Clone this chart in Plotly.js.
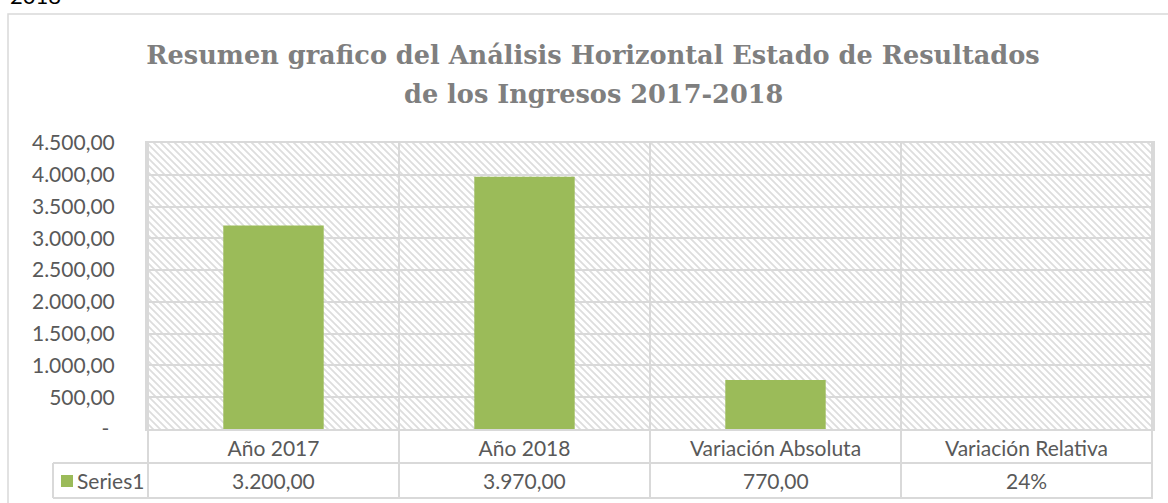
<!DOCTYPE html>
<html>
<head>
<meta charset="utf-8">
<script src="https://cdn.plot.ly/plotly-3.0.1.min.js"></script>
<style>html,body{margin:0;padding:0;background:#fff}#chart{width:1168px;height:503px}</style>
</head>
<body>
<div id="chart"></div>
<script>
// ---- data ----
const categories = ['Año 2017', 'Año 2018', 'Variación Absoluta', 'Variación Relativa'];
const values = [3200, 3970, 770, 0.24];
const valueFormats = ['number', 'number', 'number', 'percent'];
const seriesName = 'Series1';
const yTickValues = [0, 500, 1000, 1500, 2000, 2500, 3000, 3500, 4000, 4500];
const titleLine1 = 'Resumen grafico del Análisis Horizontal Estado de Resultados';
const titleLine2 = 'de los Ingresos 2017-2018';
const cornerText = '2018';

// ---- helpers ----
const W = 1168, H = 503;
const xp = px => px / W;
const yp = py => 1 - py / H;
function fmtEs(v) {
  const neg = v < 0; v = Math.abs(v);
  const cents = Math.round(v * 100);
  let ip = Math.floor(cents / 100).toString();
  const dp = (cents % 100).toString().padStart(2, '0');
  ip = ip.replace(/\B(?=(\d{3})+(?!\d))/g, '.');
  return (neg ? '-' : '') + ip + ',' + dp;
}
function fmtCell(v, f) { return f === 'percent' ? Math.round(v * 100) + '%' : fmtEs(v); }
const yTickText = yTickValues.map(v => v === 0 ? '-\u00a0' : fmtEs(v));

// geometry (pixels)
const PL = 147, PR = 1153, PT = 143, PB = 429;
const ROW1 = 463, ROW2 = 498, LEG_L = 53;
const GRID = '#d9d9d9', TXT = '#595959', BAR = '#9bbb59';
const FONT = 'Lato, "Open Sans", sans-serif';
const TITLE_FONT = {family: '"DejaVu Serif", serif', size: 25.6, color: '#7f7f7f', weight: 'bold'};

// hatch background image
const hw = PR - PL, hh = PB - PT;
const hatch = `<svg xmlns='http://www.w3.org/2000/svg' width='${hw}' height='${hh}'><defs><pattern id='p' width='7' height='7' patternUnits='userSpaceOnUse'><path d='M-2,-2 L9,9 M-2,5 L2,9 M5,-2 L9,2' stroke='#dddddd' stroke-width='1.8'/></pattern></defs><rect width='100%' height='100%' fill='#ffffff'/><rect width='100%' height='100%' fill='url(#p)'/></svg>`;
const hatchUri = 'data:image/svg+xml;charset=utf-8,' + encodeURIComponent(hatch);

const shapes = [];
const lineStyle = {color: GRID, width: 2};
for (let i = 0; i <= categories.length; i++) {
  shapes.push({type: 'line', xref: 'x', yref: 'paper', x0: i - 0.5, x1: i - 0.5, y0: yp(ROW2), y1: yp(PT), line: lineStyle});
}
[ROW1, ROW2].forEach(py => shapes.push({type: 'line', xref: 'paper', yref: 'paper', x0: xp(LEG_L), x1: xp(PR), y0: yp(py), y1: yp(py), line: lineStyle}));
shapes.push({type: 'line', xref: 'paper', yref: 'paper', x0: xp(LEG_L), x1: xp(LEG_L), y0: yp(ROW1), y1: yp(ROW2), line: lineStyle});
shapes.push({type: 'rect', xref: 'paper', yref: 'paper', x0: xp(61), x1: xp(73), y0: yp(487), y1: yp(475), line: {width: 0}, fillcolor: BAR});
shapes.push({type: 'rect', xref: 'paper', yref: 'paper', x0: xp(8), x1: 1.05, y0: -0.05, y1: yp(14), line: {color: GRID, width: 1.5}});

const annotations = values.map((v, i) => ({
  xref: 'x', yref: 'paper', x: i, y: yp((ROW1 + ROW2) / 2), text: fmtCell(v, valueFormats[i]),
  showarrow: false, xanchor: 'center', yanchor: 'middle', font: {family: FONT, size: 21, color: TXT}
}));
annotations.push({xref: 'paper', yref: 'paper', x: xp(75), y: yp((ROW1 + ROW2) / 2), text: seriesName,
  showarrow: false, xanchor: 'left', yanchor: 'middle', font: {family: FONT, size: 21, color: TXT}});
annotations.push({xref: 'paper', yref: 'paper', x: xp(8), y: yp(11), text: cornerText,
  showarrow: false, xanchor: 'left', yanchor: 'bottom', font: {family: FONT, size: 22, color: '#000'}});
annotations.push({xref: 'paper', yref: 'paper', x: xp(593), y: yp(94), text: titleLine2,
  showarrow: false, xanchor: 'center', yanchor: 'middle', font: TITLE_FONT});

const trace = {
  type: 'bar', x: categories, y: values, name: seriesName,
  marker: {color: BAR}, hoverinfo: 'skip'
};

const layout = {
  width: W, height: H,
  margin: {l: 0, r: 0, t: 0, b: 0},
  paper_bgcolor: '#ffffff', plot_bgcolor: 'rgba(0,0,0,0)',
  showlegend: false,
  bargap: 0.6,
  title: {
    text: titleLine1, x: xp(593), xanchor: 'center', y: yp(55), yanchor: 'middle', xref: 'paper', yref: 'container',
    font: TITLE_FONT
  },
  xaxis: {
    domain: [xp(PL), xp(PR)], type: 'category',
    showgrid: false, showline: true, mirror: true, linecolor: GRID, linewidth: 2,
    ticks: '', ticklen: 0,
    tickfont: {family: FONT, size: 21, color: TXT}, fixedrange: true
  },
  yaxis: {
    domain: [yp(PB), yp(PT)], range: [0, 4500],
    tickvals: yTickValues, ticktext: yTickText,
    showgrid: true, gridcolor: GRID, gridwidth: 2,
    showline: true, mirror: true, linecolor: GRID, linewidth: 2, zeroline: false,
    ticks: 'outside', ticklen: 26, tickcolor: 'rgba(0,0,0,0)',
    tickfont: {family: FONT, size: 21, color: TXT}, fixedrange: true
  },
  images: [{source: hatchUri, xref: 'paper', yref: 'paper', x: xp(PL), y: yp(PT), sizex: xp(PR) - xp(PL), sizey: yp(PT) - yp(PB),
    xanchor: 'left', yanchor: 'top', sizing: 'stretch', layer: 'below'}],
  shapes: shapes,
  annotations: annotations
};

Plotly.newPlot('chart', [trace], layout, {displayModeBar: false, staticPlot: true});
</script>
</body>
</html>
